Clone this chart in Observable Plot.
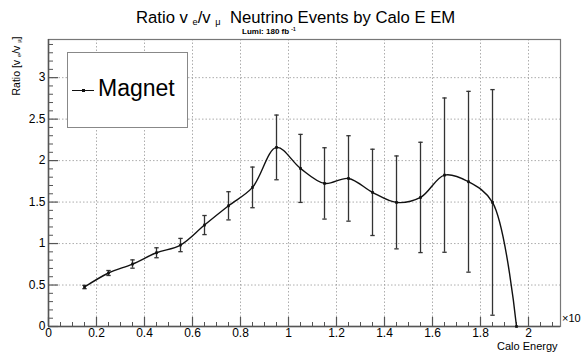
<!DOCTYPE html>
<html>
<head>
<meta charset="utf-8">
<script src="https://cdn.jsdelivr.net/npm/d3@7"></script>
<script src="https://cdn.jsdelivr.net/npm/@observablehq/plot@0.6"></script>
<style>
  html, body { margin: 0; padding: 0; background: #fff; }
  #wrap { position: relative; width: 581px; height: 353px; overflow: hidden; font-family: "Liberation Sans", Arial, sans-serif; color: #000; }
  #wrap svg { position: absolute; left: 0; top: 0; }
  .abs { position: absolute; white-space: nowrap; line-height: 1; }
  .sub { font-size: 0.55em; position: relative; top: 0.25em; }
  .sup { font-size: 0.6em; position: relative; top: -0.6em; }
</style>
</head>
<body>
<div id="wrap"></div>
<script>
// ---- data ----
const energy = [0.15, 0.25, 0.35, 0.45, 0.55, 0.65, 0.75, 0.85, 0.95, 1.05, 1.15, 1.25, 1.35, 1.45, 1.55, 1.65, 1.75, 1.85, 1.95];
const ratio  = [0.476, 0.645, 0.753, 0.889, 0.982, 1.223, 1.455, 1.677, 2.159, 1.906, 1.725, 1.785, 1.617, 1.496, 1.556, 1.825, 1.745, 1.496, 0];
const err    = [0.02, 0.03, 0.05, 0.06, 0.08, 0.115, 0.17, 0.245, 0.39, 0.41, 0.43, 0.515, 0.52, 0.56, 0.665, 0.93, 1.09, 1.36, 0];
const xMajor = [0, 0.2, 0.4, 0.6, 0.8, 1, 1.2, 1.4, 1.6, 1.8, 2];
const xMinor = [0.05, 0.1, 0.15, 0.25, 0.3, 0.35, 0.45, 0.5, 0.55, 0.65, 0.7, 0.75, 0.85, 0.9, 0.95, 1.05, 1.1, 1.15, 1.25, 1.3, 1.35, 1.45, 1.5, 1.55, 1.65, 1.7, 1.75, 1.85, 1.9, 1.95, 2.05, 2.1];
const yMajor = [0, 0.5, 1, 1.5, 2, 2.5, 3];
const yMinor = [0.1, 0.2, 0.3, 0.4, 0.6, 0.7, 0.8, 0.9, 1.1, 1.2, 1.3, 1.4, 1.6, 1.7, 1.8, 1.9, 2.1, 2.2, 2.3, 2.4, 2.6, 2.7, 2.8, 2.9, 3.1, 3.2, 3.3, 3.4];
const xGrid = [0.2, 0.4, 0.6, 0.8, 1, 1.2, 1.4, 1.6, 1.8, 2];
const yGrid = [0.5, 1, 1.5, 2, 2.5, 3];

const data = energy.map((x, i) => ({x, y: ratio[i], e: err[i]}));
const withErr = data.filter(d => d.e > 0);

const cap = { draw(ctx, size) { ctx.moveTo(-2.2, 0); ctx.lineTo(2.2, 0); } };
const axisCol = "#555";

const chart = Plot.plot({
  width: 581,
  height: 353,
  marginLeft: 48,
  marginRight: 21,
  marginTop: 39,
  marginBottom: 27,
  style: { fontFamily: "Liberation Sans, Arial, sans-serif", fontSize: "12px", background: "transparent", overflow: "visible" },
  x: { domain: [0, 2.1333] },
  y: { domain: [0, 3.46] },
  marks: [
    Plot.gridX(xGrid, { stroke: "#999", strokeOpacity: 0.8, strokeDasharray: "1.5,2" }),
    Plot.gridY(yGrid, { stroke: "#999", strokeOpacity: 0.8, strokeDasharray: "1.5,2" }),
    Plot.frame({ stroke: "#777", strokeWidth: 1.2 }),
    // x ticks (inward)
    Plot.axisX(xMajor, { tickSize: 9, dy: -9, text: null, label: null, stroke: axisCol, strokeWidth: 1.2 }),
    Plot.axisX(xMinor, { tickSize: 4, dy: -4, text: null, label: null, stroke: axisCol, strokeWidth: 1 }),
    Plot.axisX(xMajor, { tickSize: 0, tickPadding: 2, tickFormat: d => String(d), fill: "#000", label: null, fontSize: 12 }),
    // y ticks (inward)
    Plot.axisY(yMajor, { tickSize: 10, dx: 10, text: null, label: null, stroke: axisCol, strokeWidth: 1.2 }),
    Plot.axisY(yMinor, { tickSize: 5, dx: 5, text: null, label: null, stroke: axisCol, strokeWidth: 1 }),
    Plot.axisY(yMajor, { tickSize: 0, tickPadding: 3, tickFormat: d => String(d), fill: "#000", label: null, fontSize: 12 }),
    // bottom/left axis lines
    Plot.ruleY([0], { stroke: axisCol, strokeWidth: 1.5 }),
    Plot.ruleX([0], { stroke: axisCol, strokeWidth: 1.5 }),
    // error bars
    Plot.ruleX(withErr, { x: "x", y1: d => d.y - d.e, y2: d => d.y + d.e, stroke: "#333", strokeWidth: 1.3 }),
    Plot.dot(withErr, { x: "x", y: d => d.y + d.e, symbol: cap, stroke: "#333", strokeWidth: 1.3, fill: "none" }),
    Plot.dot(withErr, { x: "x", y: d => d.y - d.e, symbol: cap, stroke: "#333", strokeWidth: 1.3, fill: "none" }),
    // smooth curve
    Plot.line(data, { x: "x", y: "y", curve: "catmull-rom", stroke: "#111", strokeWidth: 1.4, clip: true }),
    // markers
    Plot.dot(data, { x: "x", y: "y", symbol: "square", r: 1.5, fill: "#111", stroke: "none" })
  ]
});

const wrap = document.getElementById("wrap");
wrap.appendChild(chart);

function addText(html, css) {
  const d = document.createElement("div");
  d.className = "abs";
  d.innerHTML = html;
  Object.assign(d.style, css);
  wrap.appendChild(d);
  return d;
}

// title
addText('Ratio v <span class="sub">e</span>/v <span class="sub">μ</span>&nbsp; Neutrino Events by Calo E EM',
  { left: "136px", top: "10px", fontSize: "16.7px" });
// subtitle
addText('Lumi: 180 fb <span class="sup">-1</span>',
  { left: "242px", top: "28px", fontSize: "8px", fontWeight: "bold" });
// y label
addText('Ratio [v <span class="sub">e</span>/v <span class="sub">μ</span>]',
  { left: "16px", top: "66px", fontSize: "10.5px", transform: "translate(-50%,-50%) rotate(-90deg)" });
// x label
addText('Calo Energy', { left: "497px", top: "341px", fontSize: "11px" });
addText('×10', { left: "562px", top: "313px", fontSize: "11px" });

// legend
const leg = document.createElement("div");
Object.assign(leg.style, { position: "absolute", left: "67px", top: "52px", width: "121px", height: "76px",
  border: "1.5px solid #888", background: "#fff", boxSizing: "border-box" });
wrap.appendChild(leg);
const legLine = document.createElement("div");
Object.assign(legLine.style, { position: "absolute", left: "72px", top: "90px", width: "22px", height: "0", borderTop: "1.4px solid #111" });
wrap.appendChild(legLine);
const legDot = document.createElement("div");
Object.assign(legDot.style, { position: "absolute", left: "81.5px", top: "89px", width: "3px", height: "3px", background: "#111" });
wrap.appendChild(legDot);
addText('Magnet', { left: "98px", top: "77px", fontSize: "23px" });
</script>
</body>
</html>
